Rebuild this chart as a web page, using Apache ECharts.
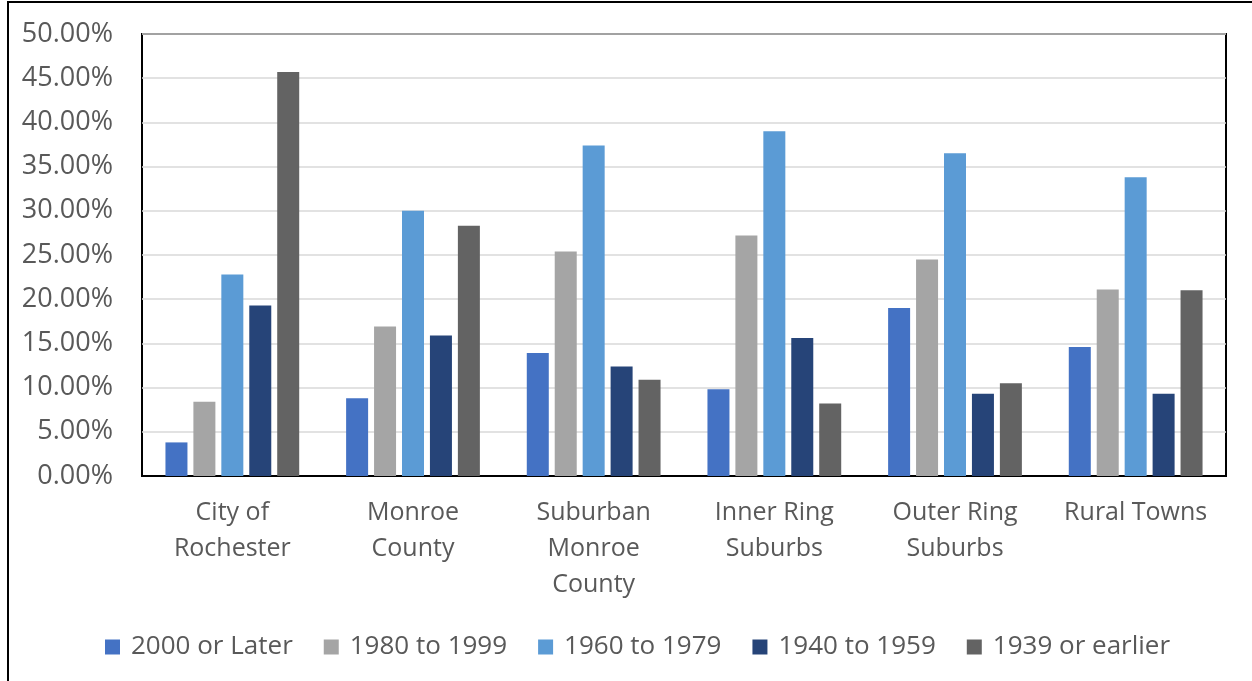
<!DOCTYPE html>
<html>
<head>
<meta charset="utf-8">
<script src="https://cdn.jsdelivr.net/npm/echarts@6/dist/echarts.min.js"></script>
<style>
html,body{margin:0;padding:0;background:#fff;}
#c{width:1252px;height:681px;}
</style>
</head>
<body>
<div id="c"></div>
<script>
const categories = ['City of\nRochester', 'Monroe\nCounty', 'Suburban\nMonroe\nCounty', 'Inner Ring\nSuburbs', 'Outer Ring\nSuburbs', 'Rural Towns'];
const yTicks = [0, 5, 10, 15, 20, 25, 30, 35, 40, 45, 50];
const s2000Later = [3.8, 8.8, 13.9, 9.8, 19.0, 14.6];
const s1980to1999 = [8.4, 16.9, 25.4, 27.2, 24.5, 21.1];
const s1960to1979 = [22.8, 30.0, 37.4, 39.0, 36.5, 33.8];
const s1940to1959 = [19.3, 15.9, 12.4, 15.6, 9.3, 9.3];
const s1939Earlier = [45.7, 28.3, 10.9, 8.2, 10.5, 21.0];
const seriesNames = ['2000 or Later', '1980 to 1999', '1960 to 1979', '1940 to 1959', '1939 or earlier'];
const seriesData = [s2000Later, s1980to1999, s1960to1979, s1940to1959, s1939Earlier];
const colors = ['#4472C4', '#A5A5A5', '#5B9BD5', '#264478', '#636363'];

const FONT = '"Open Sans", "Noto Sans", sans-serif';
const chart = echarts.init(document.getElementById('c'), null, {renderer: 'canvas'});
chart.setOption({
  animation: false,
  color: colors,
  textStyle: {fontFamily: FONT},
  graphic: [{
    type: 'rect',
    shape: {x: 8, y: 2, width: 1400, height: 900},
    style: {fill: 'none', stroke: '#000', lineWidth: 2},
    silent: true
  }],
  grid: {
    left: 142, right: 26, top: 34, bottom: 205,
    show: true, borderColor: '#000', borderWidth: 2, backgroundColor: 'transparent',
    containLabel: false
  },
  legend: {
    data: seriesNames,
    left: 100,
    top: 629,
    icon: 'rect',
    itemWidth: 15,
    itemHeight: 15,
    itemGap: 31,
    textStyle: {fontFamily: FONT, fontSize: 26, color: '#595959', padding: [0, 0, 0, 6]}
  },
  xAxis: {
    type: 'category',
    data: categories,
    axisLine: {show: true, lineStyle: {color: '#000', width: 2}},
    axisTick: {show: false},
    axisLabel: {
      interval: 0, margin: 19, fontFamily: FONT, fontSize: 25,
      color: '#595959', lineHeight: 36, align: 'center', verticalAlign: 'top'
    }
  },
  yAxis: {
    type: 'value',
    min: yTicks[0], max: yTicks[yTicks.length - 1], interval: yTicks[1] - yTicks[0],
    axisLine: {show: false},
    axisTick: {show: false},
    splitLine: {show: true, lineStyle: {color: '#D9D9D9', width: 1.5}},
    axisLabel: {
      margin: 29, fontFamily: FONT, fontSize: 27, color: '#595959',
      formatter: v => v.toFixed(2) + '%'
    }
  },
  series: seriesNames.map((n, i) => ({
    name: n,
    type: 'bar',
    data: seriesData[i],
    barWidth: 22,
    barGap: '27%',
    itemStyle: {color: colors[i]}
  }))
});
</script>
</body>
</html>
